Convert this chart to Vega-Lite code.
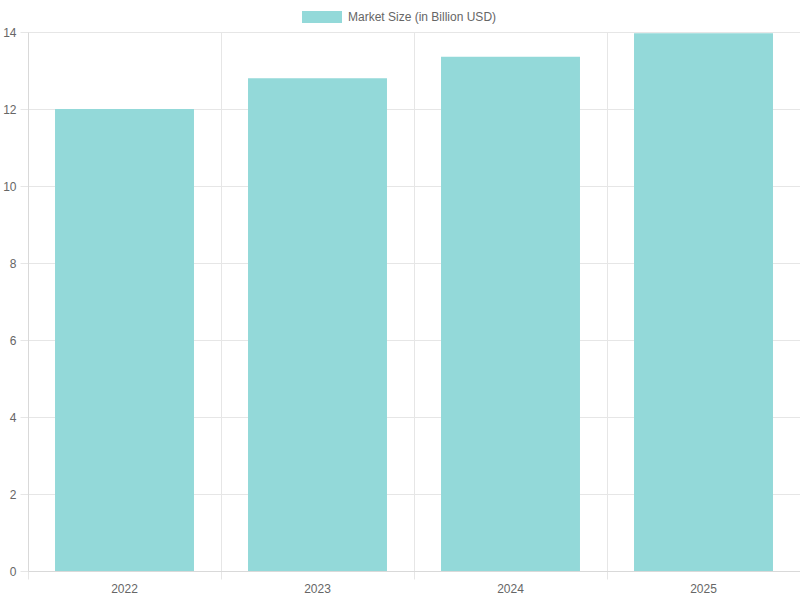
{
  "$schema": "https://vega.github.io/schema/vega-lite/v6.json",
  "width": 772,
  "height": 539,
  "autosize": {"type": "none"},
  "padding": {"left": 28, "top": 32, "right": 0, "bottom": 29},
  "background": "#ffffff",
  "data": {
    "values": [
      {"year": "2022", "size": 12.0, "series": "Market Size (in Billion USD)"},
      {"year": "2023", "size": 12.8, "series": "Market Size (in Billion USD)"},
      {"year": "2024", "size": 13.36, "series": "Market Size (in Billion USD)"},
      {"year": "2025", "size": 13.97, "series": "Market Size (in Billion USD)"}
    ]
  },
  "mark": {"type": "bar", "width": {"band": 0.72}},
  "encoding": {
    "x": {
      "field": "year",
      "type": "nominal",
      "scale": {"paddingInner": 0, "paddingOuter": 0},
      "axis": {
        "title": null,
        "labelAngle": 0,
        "bandPosition": 0,
        "grid": true,
        "tickSize": 8,
        "labelPadding": 4
      }
    },
    "y": {
      "field": "size",
      "type": "quantitative",
      "scale": {"domain": [0, 14], "nice": false},
      "axis": {
        "title": null,
        "values": [0, 2, 4, 6, 8, 10, 12, 14],
        "tickSize": 8,
        "labelPadding": 4
      }
    },
    "color": {
      "field": "series",
      "type": "nominal",
      "scale": {"range": ["#93d9d9"]},
      "legend": {
        "title": null,
        "orient": "none",
        "legendX": 274,
        "legendY": -35,
        "symbolType": "M-1,-0.3H1V0.3H-1Z",
        "symbolSize": 1600,
        "symbolStrokeWidth": 0,
        "labelFontSize": 12,
        "labelColor": "#666666",
        "labelFont": "Liberation Sans",
        "labelOffset": 6
      }
    }
  },
  "config": {
    "view": {"stroke": null},
    "axis": {
      "labelFont": "Liberation Sans",
      "labelFontSize": 12,
      "labelColor": "#666666",
      "gridColor": "#e6e6e6",
      "domainColor": "#d9d9d9",
      "tickColor": "#e6e6e6"
    }
  }
}
